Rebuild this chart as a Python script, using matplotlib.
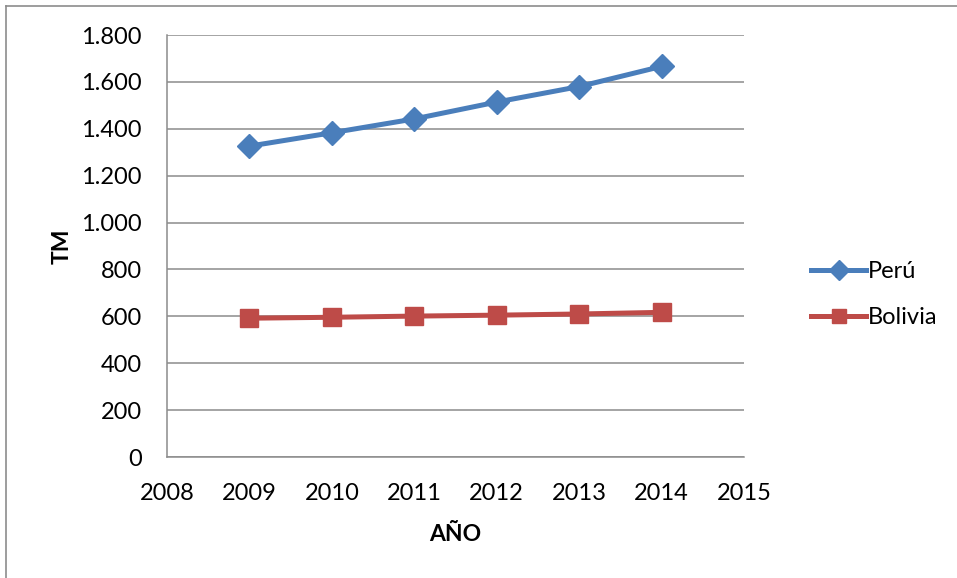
import matplotlib.pyplot as plt
from matplotlib.lines import Line2D

years = [2009, 2010, 2011, 2012, 2013, 2014]
peru = [1326, 1383, 1442, 1514, 1580, 1666]
bolivia = [592, 596, 601, 605, 610, 617]

plt.rcParams['font.family'] = ['Lato', 'DejaVu Sans']

fig = plt.figure(figsize=(9.57, 5.78), dpi=100)
W, H = 957, 578

# outer chart frame: only the left and top edges fall inside the image
frame = dict(transform=fig.transFigure, color='#8c8c8c', linewidth=1.2)
fig.lines.append(Line2D([5.5 / W, 5.5 / W], [0, 1 - 6 / H], **frame))
fig.lines.append(Line2D([5.5 / W, 1.0], [1 - 6 / H, 1 - 6 / H], **frame))

ax = fig.add_axes([167 / W, 1 - 457 / H, (744 - 167) / W, (457 - 35) / H])

ax.plot(years, peru, color='#4a7ebb', linewidth=3.6, marker='D',
        markersize=12.5, label='Perú')
ax.plot(years, bolivia, color='#be4b48', linewidth=3.6, marker='s',
        markersize=13, label='Bolivia')

ax.set_xlim(2008, 2015)
ax.set_ylim(0, 1800)
ax.set_xticks(range(2008, 2016))
ax.set_yticks(range(0, 1801, 200))
ax.set_yticklabels([f'{v:,}'.replace(',', '.') for v in range(0, 1801, 200)])

ax.grid(axis='y', color='#8c8c8c', linewidth=1.1)
ax.set_axisbelow(True)
for s in ['top', 'right']:
    ax.spines[s].set_visible(False)
for s in ['left', 'bottom']:
    ax.spines[s].set_color('#8c8c8c')
    ax.spines[s].set_linewidth(1.1)

ax.tick_params(length=0, labelsize=17, pad=18)
ax.tick_params(axis='x', pad=19)

ax.set_xlabel('AÑO', fontsize=16.5, fontweight='bold', labelpad=14)
ax.set_ylabel('TM', fontsize=16.5, fontweight='bold', labelpad=6)

ax.legend(loc='center left', bbox_to_anchor=(1.08, 0.385), frameon=False,
          fontsize=17, handlelength=2.3, handletextpad=0.1,
          labelspacing=1.05, markerscale=0.8)

fig.savefig('out.png', dpi=100)
